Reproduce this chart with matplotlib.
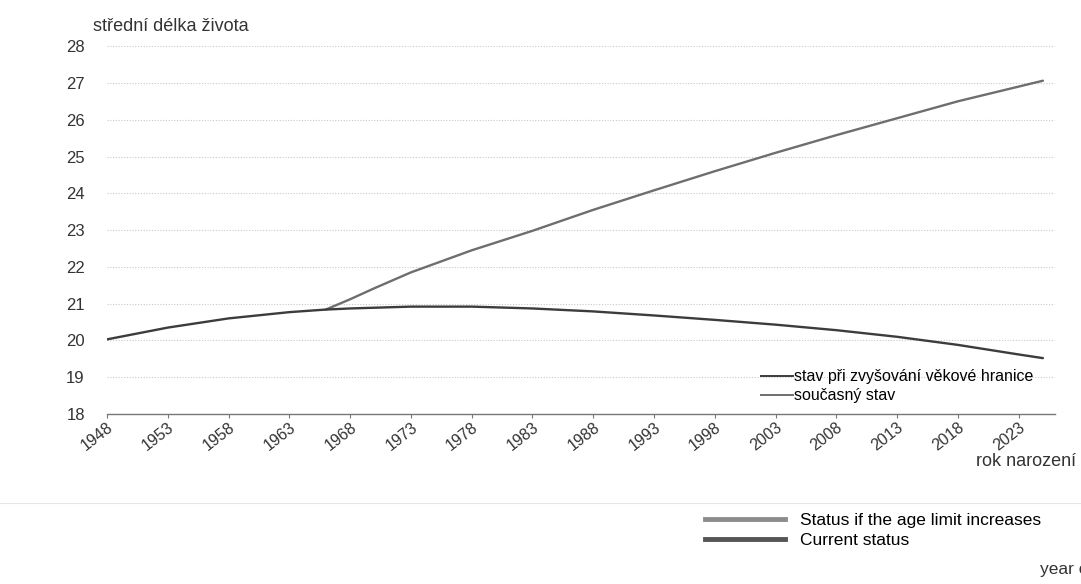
import numpy as np
import matplotlib.pyplot as plt
from matplotlib.lines import Line2D

plt.rcParams['font.family'] = ['Liberation Sans', 'DejaVu Sans']

# soucasny stav (current status)
roky_akt = [1948, 1953, 1958, 1963, 1966, 1968, 1973, 1978, 1983, 1988, 1993,
            1998, 2003, 2008, 2013, 2018, 2023, 2025]
akt = [20.03, 20.35, 20.6, 20.77, 20.84, 20.87, 20.92, 20.92, 20.87, 20.79,
       20.68, 20.56, 20.43, 20.28, 20.1, 19.88, 19.62, 19.52]

# stav pri zvysovani vekove hranice (age limit increases)
roky_zvys = [1966, 1968, 1970, 1973, 1978, 1983, 1988, 1993, 1998, 2003, 2008,
             2013, 2018, 2023, 2025]
zvys = [20.84, 21.12, 21.42, 21.85, 22.45, 22.98, 23.55, 24.08, 24.6, 25.1,
        25.58, 26.04, 26.5, 26.9, 27.06]

xticks = list(range(1948, 2024, 5))
yticks = list(range(18, 29))

fig = plt.figure(figsize=(10.81, 5.84), dpi=100)
ax = fig.add_axes([0.099, 0.291, 0.877, 0.630])

ax.plot(roky_zvys, zvys, color='#6e6e6e', lw=1.7,
        label='stav při zvyšování věkové hranice', solid_capstyle='round')
ax.plot(roky_akt, akt, color='#3c3c3c', lw=1.7,
        label='současný stav', solid_capstyle='round')

ax.set_xlim(1948, 2026)
ax.set_ylim(18, 28)
ax.set_xticks(xticks)
ax.set_xticklabels([str(r) for r in xticks], rotation=38, ha='right',
                   rotation_mode='anchor', fontsize=11.5, color='#333333')
ax.set_yticks(yticks)
ax.set_yticklabels([str(v) for v in yticks], fontsize=12, color='#333333')
ax.tick_params(axis='y', length=0, pad=16)
ax.tick_params(axis='x', length=3, direction='out', color='#777777', pad=1)
ax.grid(axis='y', color='#c8c8c8', linestyle=(0, (1, 1.5)), lw=0.8)
ax.set_axisbelow(True)
for s in ['top', 'right', 'left']:
    ax.spines[s].set_visible(False)
ax.spines['bottom'].set_color('#777777')
ax.spines['bottom'].set_linewidth(1.0)

# legenda uvnitr
hs = [Line2D([0], [0], color='#3c3c3c', lw=1.4),
      Line2D([0], [0], color='#6e6e6e', lw=1.4)]
ax.legend(hs, ['stav při zvyšování věkové hranice', 'současný stav'],
          loc='lower right', bbox_to_anchor=(0.984, 0.012), frameon=False,
          fontsize=11.5, handlelength=2.0, handletextpad=0.1,
          labelspacing=0.25, borderaxespad=0)

fig.text(0.086, 0.955, 'střední délka života', fontsize=13, color='#333333',
         va='center')
fig.text(0.995, 0.21, 'rok narození', fontsize=13, color='#333333',
         ha='right', va='center')

# anglicka legenda pod grafem
fig.add_artist(Line2D([0, 1], [0.138, 0.138], color='#e6e6e6', lw=0.8))
hs2 = [Line2D([0], [0], color='#8c8c8c', lw=3.5),
       Line2D([0], [0], color='#555555', lw=3.5)]
fig.legend(hs2, ['Status if the age limit increases', 'Current status'],
           loc='upper left', bbox_to_anchor=(0.646, 0.134), frameon=False,
           fontsize=12.5, handlelength=4.6, handletextpad=0.85,
           labelspacing=0.3, borderaxespad=0)
fig.text(0.962, 0.012, 'year of birth', fontsize=12.5, color='#333333',
         ha='left', va='bottom')

fig.savefig('out.png', dpi=100)
